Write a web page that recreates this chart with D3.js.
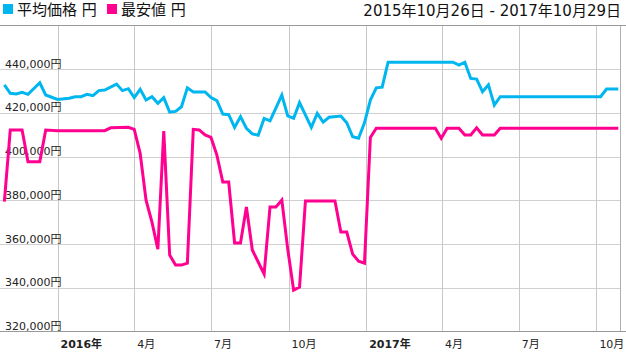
<html>
<head>
    <meta charset="utf-8">
    <script src="https://d3js.org/d3.v7.min.js"></script>
    <style>
        body { margin: 0; background: #fff; }
        text { font-family: "DejaVu Sans", "Noto Sans CJK JP", sans-serif; }
    </style>
</head>

<body>
    <svg id="chart"></svg>

    <script>
        var Width = 626;
        var Height = 353;

        // weekly samples, counted in weeks from the first Friday
        var firstWeek = "2015-10-30";
        var avgWeeks = [0, 1, 2, 3, 4, 6, 7, 9, 11, 12, 13, 14, 15, 16, 17, 19, 20, 21, 22, 23, 24, 25, 26, 27, 28, 29, 30,
            31, 32, 34, 35, 36, 37, 38, 39, 40, 41, 42, 43, 44, 45, 47, 48, 49, 50, 52, 53, 54, 55, 57, 58, 59, 60, 61,
            62, 63, 64, 65, 76, 77, 78, 79, 80, 81, 82, 83, 84, 101, 102, 104];
        var avgValues = [432800, 429000, 428700, 429400, 428500, 433800, 428200, 426200, 426700, 427400, 427400, 428500,
            427900, 430200, 430500, 433200, 430200, 431100, 427000, 430800, 425900, 427400, 424400, 427000, 420400,
            420700, 422800, 431500, 429600, 429600, 427000, 425600, 419500, 419200, 413400, 418300, 413000, 410400,
            409800, 417500, 416400, 428200, 418600, 417500, 424700, 413400, 419800, 415800, 418000, 418600, 415500,
            409100, 408400, 415500, 425900, 431500, 431800, 443200, 443200, 441900, 443200, 435800, 435500, 429700,
            432900, 423600, 427400, 427400, 430900, 430900];

        var minWeeks = [0, 1, 3, 4, 6, 7, 9, 17, 18, 21, 22, 23, 24, 25, 26, 27, 28, 29, 30, 31, 32, 33, 34, 35, 36, 37,
            38, 39, 40, 41, 42, 43, 44, 45, 46, 47, 48, 49, 50, 51, 56, 57, 58, 59, 60, 61, 62, 63, 73, 74, 75, 77, 78,
            79, 80, 81, 83, 84, 104];
        var minValues = [379400, 412200, 412200, 397700, 397700, 412200, 411900, 411900, 413200, 413400, 412500, 401500,
            380100, 370000, 357700, 411700, 355000, 350400, 350400, 351300, 412500, 412200, 409900, 408800, 400700,
            388400, 388400, 360500, 360500, 377000, 357300, 351800, 346300, 377000, 377000, 380100, 357700, 338900,
            340300, 379700, 379700, 365500, 365500, 355400, 352200, 351300, 408800, 413000, 413000, 408400, 413000,
            413000, 409900, 409900, 413200, 409900, 409900, 413000, 413000];

        var yTicks = [320000, 340000, 360000, 380000, 400000, 420000, 440000, 460000];
        var xTicks = ["2016-01-01", "2016-04-01", "2016-07-01", "2016-10-01", "2017-01-01", "2017-04-01", "2017-07-01", "2017-10-01"];
        var xTickLabels = ["2016年", "4月", "7月", "10月", "2017年", "4月", "7月", "10月"];
        var seriesNames = ["平均価格 円", "最安値 円"];
        var seriesColors = ["#00b6f0", "#ff0090"];
        var rangeLabel = "2015年10月26日 - 2017年10月29日";

        var parse = d3.timeParse("%Y-%m-%d");
        var start = parse(firstWeek);
        function weekDate(w) { return d3.timeDay.offset(start, w * 7); }

        var x = d3.scaleTime()
            .domain([parse("2015-10-26"), parse("2017-10-29")])
            .range([1, 620]);
        var y = d3.scaleLinear()
            .domain([320000, 460000])
            .range([331.5, 25.5]);

        var svg = d3.select("#chart")
            .attr("width", Width)
            .attr("height", Height);

        // grid
        svg.selectAll(".hgrid")
            .data(yTicks.slice(1, -1))
            .enter()
            .append("line").classed("hgrid", true)
                .attr("x1", 0).attr("x2", 620)
                .attr("y1", function(d) { return Math.round(y(d)) + 0.5; })
                .attr("y2", function(d) { return Math.round(y(d)) + 0.5; })
                .attr("stroke", "#d0d0d0");

        svg.selectAll(".vgrid")
            .data(xTicks)
            .enter()
            .append("line").classed("vgrid", true)
                .attr("x1", function(d) { return Math.round(x(parse(d))) + 0.5; })
                .attr("x2", function(d) { return Math.round(x(parse(d))) + 0.5; })
                .attr("y1", 26).attr("y2", 331)
                .attr("stroke", "#c8c8c8");

        svg.append("line")
            .attr("x1", 620.5).attr("x2", 620.5).attr("y1", 26).attr("y2", 331)
            .attr("stroke", "#b0b0b0");
        svg.append("line")
            .attr("x1", 0).attr("x2", Width).attr("y1", 25.5).attr("y2", 25.5)
            .attr("stroke", "#999");
        svg.append("line")
            .attr("x1", 0).attr("x2", Width).attr("y1", 331.5).attr("y2", 331.5)
            .attr("stroke", "#999");

        // y labels sit above their grid line
        svg.selectAll(".ylab")
            .data(yTicks.slice(0, -1))
            .enter()
            .append("text").classed("ylab", true)
                .attr("x", 5)
                .attr("y", function(d) { return y(d) - 1.5; })
                .attr("font-size", 11)
                .attr("fill", "#222")
                .text(function(d) { return d3.format(",")(d) + "円"; });

        svg.selectAll(".xlab")
            .data(xTicks)
            .enter()
            .append("text").classed("xlab", true)
                .attr("x", function(d) { return x(parse(d)) + 3; })
                .attr("y", 348)
                .attr("font-size", 11)
                .attr("font-weight", function(d, i) { return xTickLabels[i].indexOf("年") >= 0 ? "bold" : "normal"; })
                .attr("fill", "#222")
                .text(function(d, i) { return xTickLabels[i]; });

        // lines
        var line = d3.line()
            .x(function(d) { return x(weekDate(d[0])); })
            .y(function(d) { return y(d[1]); });

        svg.append("path")
            .datum(d3.zip(avgWeeks, avgValues))
            .attr("d", line)
            .attr("fill", "none")
            .attr("stroke", seriesColors[0])
            .attr("stroke-width", 3);

        svg.append("path")
            .datum(d3.zip(minWeeks, minValues))
            .attr("d", line)
            .attr("fill", "none")
            .attr("stroke", seriesColors[1])
            .attr("stroke-width", 3);

        // legend
        var legendX = [3, 107];
        var legend = svg.selectAll(".legend")
            .data(seriesNames)
            .enter()
            .append("g").classed("legend", true)
                .attr("transform", function(d, i) { return "translate(" + legendX[i] + ",0)"; });
        legend.append("rect")
            .attr("x", 0).attr("y", 4).attr("width", 10).attr("height", 10)
            .attr("fill", function(d, i) { return seriesColors[i]; });
        legend.append("text")
            .attr("x", 14).attr("y", 15)
            .attr("font-size", 15)
            .attr("fill", "#111")
            .text(function(d) { return d; });

        svg.append("text")
            .attr("x", 621).attr("y", 16)
            .attr("text-anchor", "end")
            .attr("font-size", 15)
            .attr("fill", "#111")
            .text(rangeLabel);
    </script>
</body>
</html>
